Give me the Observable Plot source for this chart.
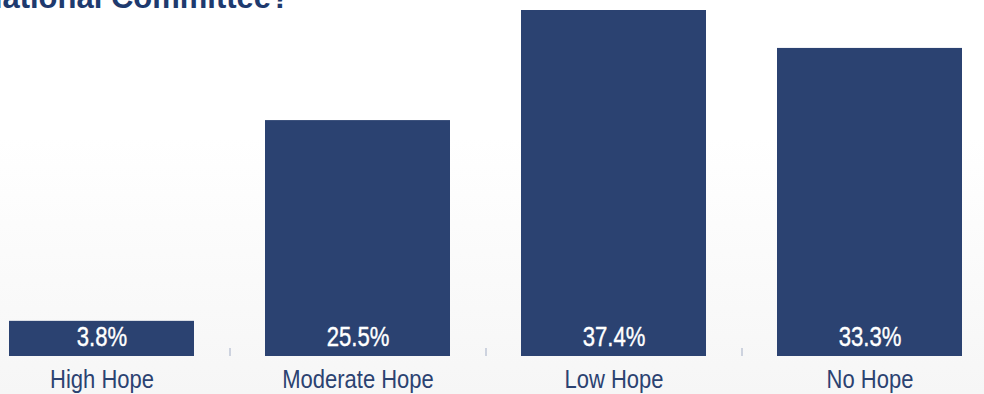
<!DOCTYPE html>
<html>
<head>
<meta charset="utf-8">
<script src="https://cdn.jsdelivr.net/npm/d3@7"></script>
<script src="https://cdn.jsdelivr.net/npm/@observablehq/plot@0.6"></script>
<style>
  html, body { margin: 0; padding: 0; width: 984px; height: 394px; overflow: hidden;
    background: linear-gradient(to bottom, #ffffff 0%, #ffffff 35%, #f6f6f6 100%); }
  #wrap { position: relative; width: 984px; height: 394px; }
  #title { position: absolute; left: -20px; top: -17px; margin: 0; white-space: nowrap;
    font-family: "Liberation Sans", Arial, sans-serif; font-weight: bold; font-size: 31px;
    line-height: 30px; color: #1e3a6e; }
  svg { position: absolute; left: 0; top: 0; background: transparent; }
</style>
</head>
<body>
<div id="wrap">
  <div id="title">National Committee?</div>
</div>
<script>
const categories = ["High Hope", "Moderate Hope", "Low Hope", "No Hope"];
const values = [3.8, 25.5, 37.4, 33.3];
const valueLabels = ["3.8%", "25.5%", "37.4%", "33.3%"];

const data = categories.map((c, i) => ({category: c, value: values[i], label: valueLabels[i]}));
const separators = categories.slice(1);

const navy = "#2b4271";
const font = "'Liberation Sans', Arial, sans-serif";

const chart = Plot.plot({
  width: 984,
  height: 394,
  marginTop: 10,
  marginBottom: 38,
  marginLeft: 8,
  marginRight: 22,
  style: {background: "transparent", fontFamily: font},
  x: {domain: categories, paddingInner: 0.278, paddingOuter: 0, label: null},
  y: {domain: [0, d3.max(values)], axis: null},
  marks: [
    Plot.barY(data, {x: "category", y: "value", fill: navy}),
    Plot.ruleX(separators, {x: d => d, y1: 0, y2: 0, insetTop: -8, dx: -128, stroke: "#a3aec6", strokeWidth: 1}),
    Plot.text(data, {x: "category", y: 0, text: "label", fill: "white", stroke: "white", strokeWidth: 0.4,
      fontSize: 27, dy: -18.7, lineAnchor: "middle"}),
    Plot.axisX({tickSize: 0, tickPadding: 14, fontSize: 25, color: navy, fill: navy, stroke: navy, strokeWidth: 0.75, label: null})
  ]
});

// condense the glyphs horizontally (the reference uses a condensed face)
function condense(selector, s) {
  chart.querySelectorAll(selector).forEach(t => {
    let tr = t.getAttribute("transform") || "";
    const xa = t.getAttribute("x");
    if (xa !== null && isFinite(+xa) && +xa !== 0) {
      t.removeAttribute("x");
      tr = `translate(${+xa},0) ` + tr;
    }
    t.setAttribute("transform", (tr + ` scale(${s},1)`).trim());
  });
}
condense("g[aria-label='text'] text", 0.82);
condense("g[aria-label='x-axis tick label'] text", 0.88);

document.getElementById("wrap").appendChild(chart);
</script>
</body>
</html>
